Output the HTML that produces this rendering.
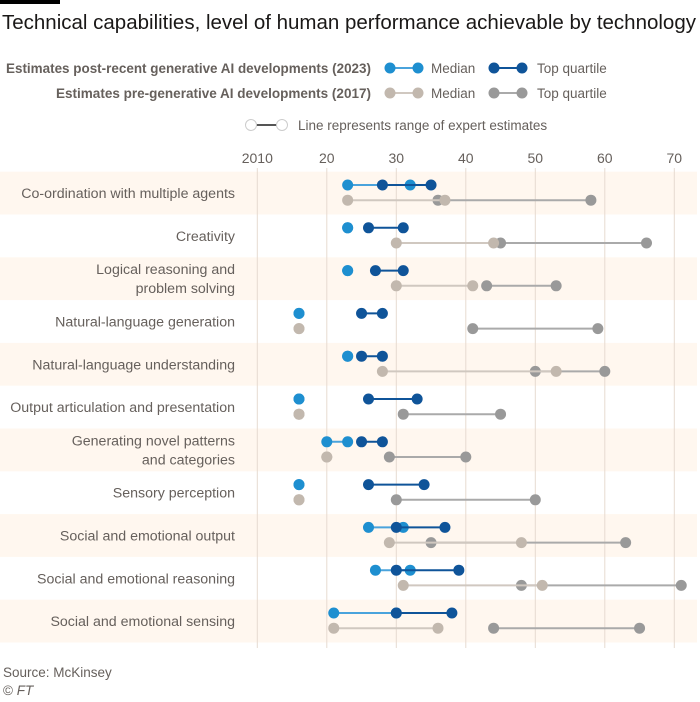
<!DOCTYPE html>
<html><head><meta charset="utf-8"><style>
html,body{margin:0;padding:0;background:#fff;}
body{width:700px;height:697px;overflow:hidden;font-family:"Liberation Sans",sans-serif;}
</style></head><body>
<svg id="chart" width="700" height="697" xmlns="http://www.w3.org/2000/svg" font-family="Liberation Sans, sans-serif">
<rect x="0" y="0" width="60" height="4" fill="#000"/>
<text x="2" y="29" font-size="20.5" fill="#1a1817">Technical capabilities, level of human performance achievable by technology</text>
<g font-size="13.5" fill="#66605c">
<text x="371" y="73" text-anchor="end" font-weight="bold" textLength="365" lengthAdjust="spacingAndGlyphs">Estimates post-recent generative AI developments (2023)</text>
<line x1="390" y1="68" x2="418" y2="68" stroke="#4aa3dc" stroke-width="2"/>
<circle cx="390" cy="68" r="5.5" fill="#1e8fd0"/><circle cx="418" cy="68" r="5.5" fill="#1e8fd0"/>
<text x="431" y="73">Median</text>
<line x1="494" y1="68" x2="522" y2="68" stroke="#0f5499" stroke-width="2"/>
<circle cx="494" cy="68" r="5.5" fill="#0f5499"/><circle cx="522" cy="68" r="5.5" fill="#0f5499"/>
<text x="537" y="73">Top quartile</text>
<text x="371" y="98" text-anchor="end" font-weight="bold" textLength="315" lengthAdjust="spacingAndGlyphs">Estimates pre-generative AI developments (2017)</text>
<line x1="390" y1="93" x2="418" y2="93" stroke="#d0c8c0" stroke-width="2"/>
<circle cx="390" cy="93" r="5.5" fill="#c2b8ae"/><circle cx="418" cy="93" r="5.5" fill="#c2b8ae"/>
<text x="431" y="98">Median</text>
<line x1="494" y1="93" x2="522" y2="93" stroke="#aaa" stroke-width="2"/>
<circle cx="494" cy="93" r="5.5" fill="#999"/><circle cx="522" cy="93" r="5.5" fill="#999"/>
<text x="537" y="98">Top quartile</text>
<line x1="251" y1="125" x2="282" y2="125" stroke="#555" stroke-width="2"/>
<circle cx="251" cy="125" r="5.5" fill="#fff" stroke="#ccc"/><circle cx="282" cy="125" r="5.5" fill="#fff" stroke="#ccc"/>
<text x="298" y="130">Line represents range of expert estimates</text>
</g>
<g id="bands"></g><g id="grid"></g><g id="marks"></g>
<text x="3" y="677" font-size="13.5" fill="#66605c">Source: McKinsey</text>
<text x="3" y="695" font-size="13.5" fill="#66605c">© <tspan font-style="italic">FT</tspan></text>
</svg>
<script>
const categories=[["Co-ordination with multiple agents"],["Creativity"],["Logical reasoning and","problem solving"],["Natural-language generation"],["Natural-language understanding"],["Output articulation and presentation"],["Generating novel patterns","and categories"],["Sensory perception"],["Social and emotional output"],["Social and emotional reasoning"],["Social and emotional sensing"]];
// values = years after 2010 [low, high]
const median2023=[[13,22],[13,13],[13,13],[6,6],[13,13],[6,6],[10,13],[6,6],[16,21],[17,22],[11,20]];
const top2023=[[18,25],[16,21],[17,21],[15,18],[15,18],[16,23],[15,18],[16,24],[20,27],[20,29],[20,28]];
const median2017=[[13,27],[20,34],[20,31],[6,6],[18,43],[6,6],[10,10],[6,6],[19,38],[21,41],[11,26]];
const top2017=[[26,48],[35,56],[33,43],[31,49],[40,50],[21,35],[19,30],[20,40],[25,53],[38,61],[34,55]];
const ticks=[0,10,20,30,40,50,60];
const tickLabels=["2010","20","30","40","50","60","70"];
const NS="http://www.w3.org/2000/svg";
const x=v=>257.3+6.95*v;
const bandTop=i=>171.7+42.8*i;
function mk(tag,attrs,parent){const e=document.createElementNS(NS,tag);for(const k in attrs)e.setAttribute(k,attrs[k]);parent.appendChild(e);return e;}
const bands=document.getElementById('bands'),grid=document.getElementById('grid'),marks=document.getElementById('marks');
categories.forEach((c,i)=>{
  if(i%2===0){const r=mk('rect',{x:0,y:bandTop(i),width:697,height:42.8,fill:'#fff7ef'},bands);
  
  }
  const t=mk('text',{x:235,'text-anchor':'end','font-size':14.2,fill:'#66605c'},bands);
  
  
  const cy=bandTop(i)+21.4;
  c.forEach((ln,j)=>{const ts=mk('tspan',{x:235,y:cy+5-(c.length-1)*9.5+j*19},t);ts.textContent=ln;});
});
ticks.forEach((v,k)=>{
  const l=mk('line',{x1:x(v),x2:x(v),y1:168,y2:648,stroke:'#e6dbd1','stroke-width':1},grid);
  
  
  const t=mk('text',{x:x(v),y:163,'text-anchor':'middle','font-size':14,fill:'#66605c'},grid);
  
  
  t.textContent=tickLabels[k];
});
function series(arr,dy,lineCol,dotCol,name){
  arr.forEach((p,i)=>{
    const cy=bandTop(i)+dy;
    if(p[0]!==p[1]){const l=mk('line',{x1:x(p[0]),x2:x(p[1]),y1:cy,y2:cy,stroke:lineCol,'stroke-width':2},marks);
    
    }
    p.forEach(v=>{const d=mk('circle',{cx:x(v),cy:cy,r:5.5,fill:dotCol},marks);
    
    });
  });
}
series(top2017,28.5,'#aaaaaa','#999999','top-2017');
series(median2017,28.5,'#d0c8c0','#c2b8ae','median-2017');
series(median2023,13.3,'#4aa3dc','#1e8fd0','median-2023');
series(top2023,13.3,'#0f5499','#0f5499','top-2023');
</script>
</body></html>
